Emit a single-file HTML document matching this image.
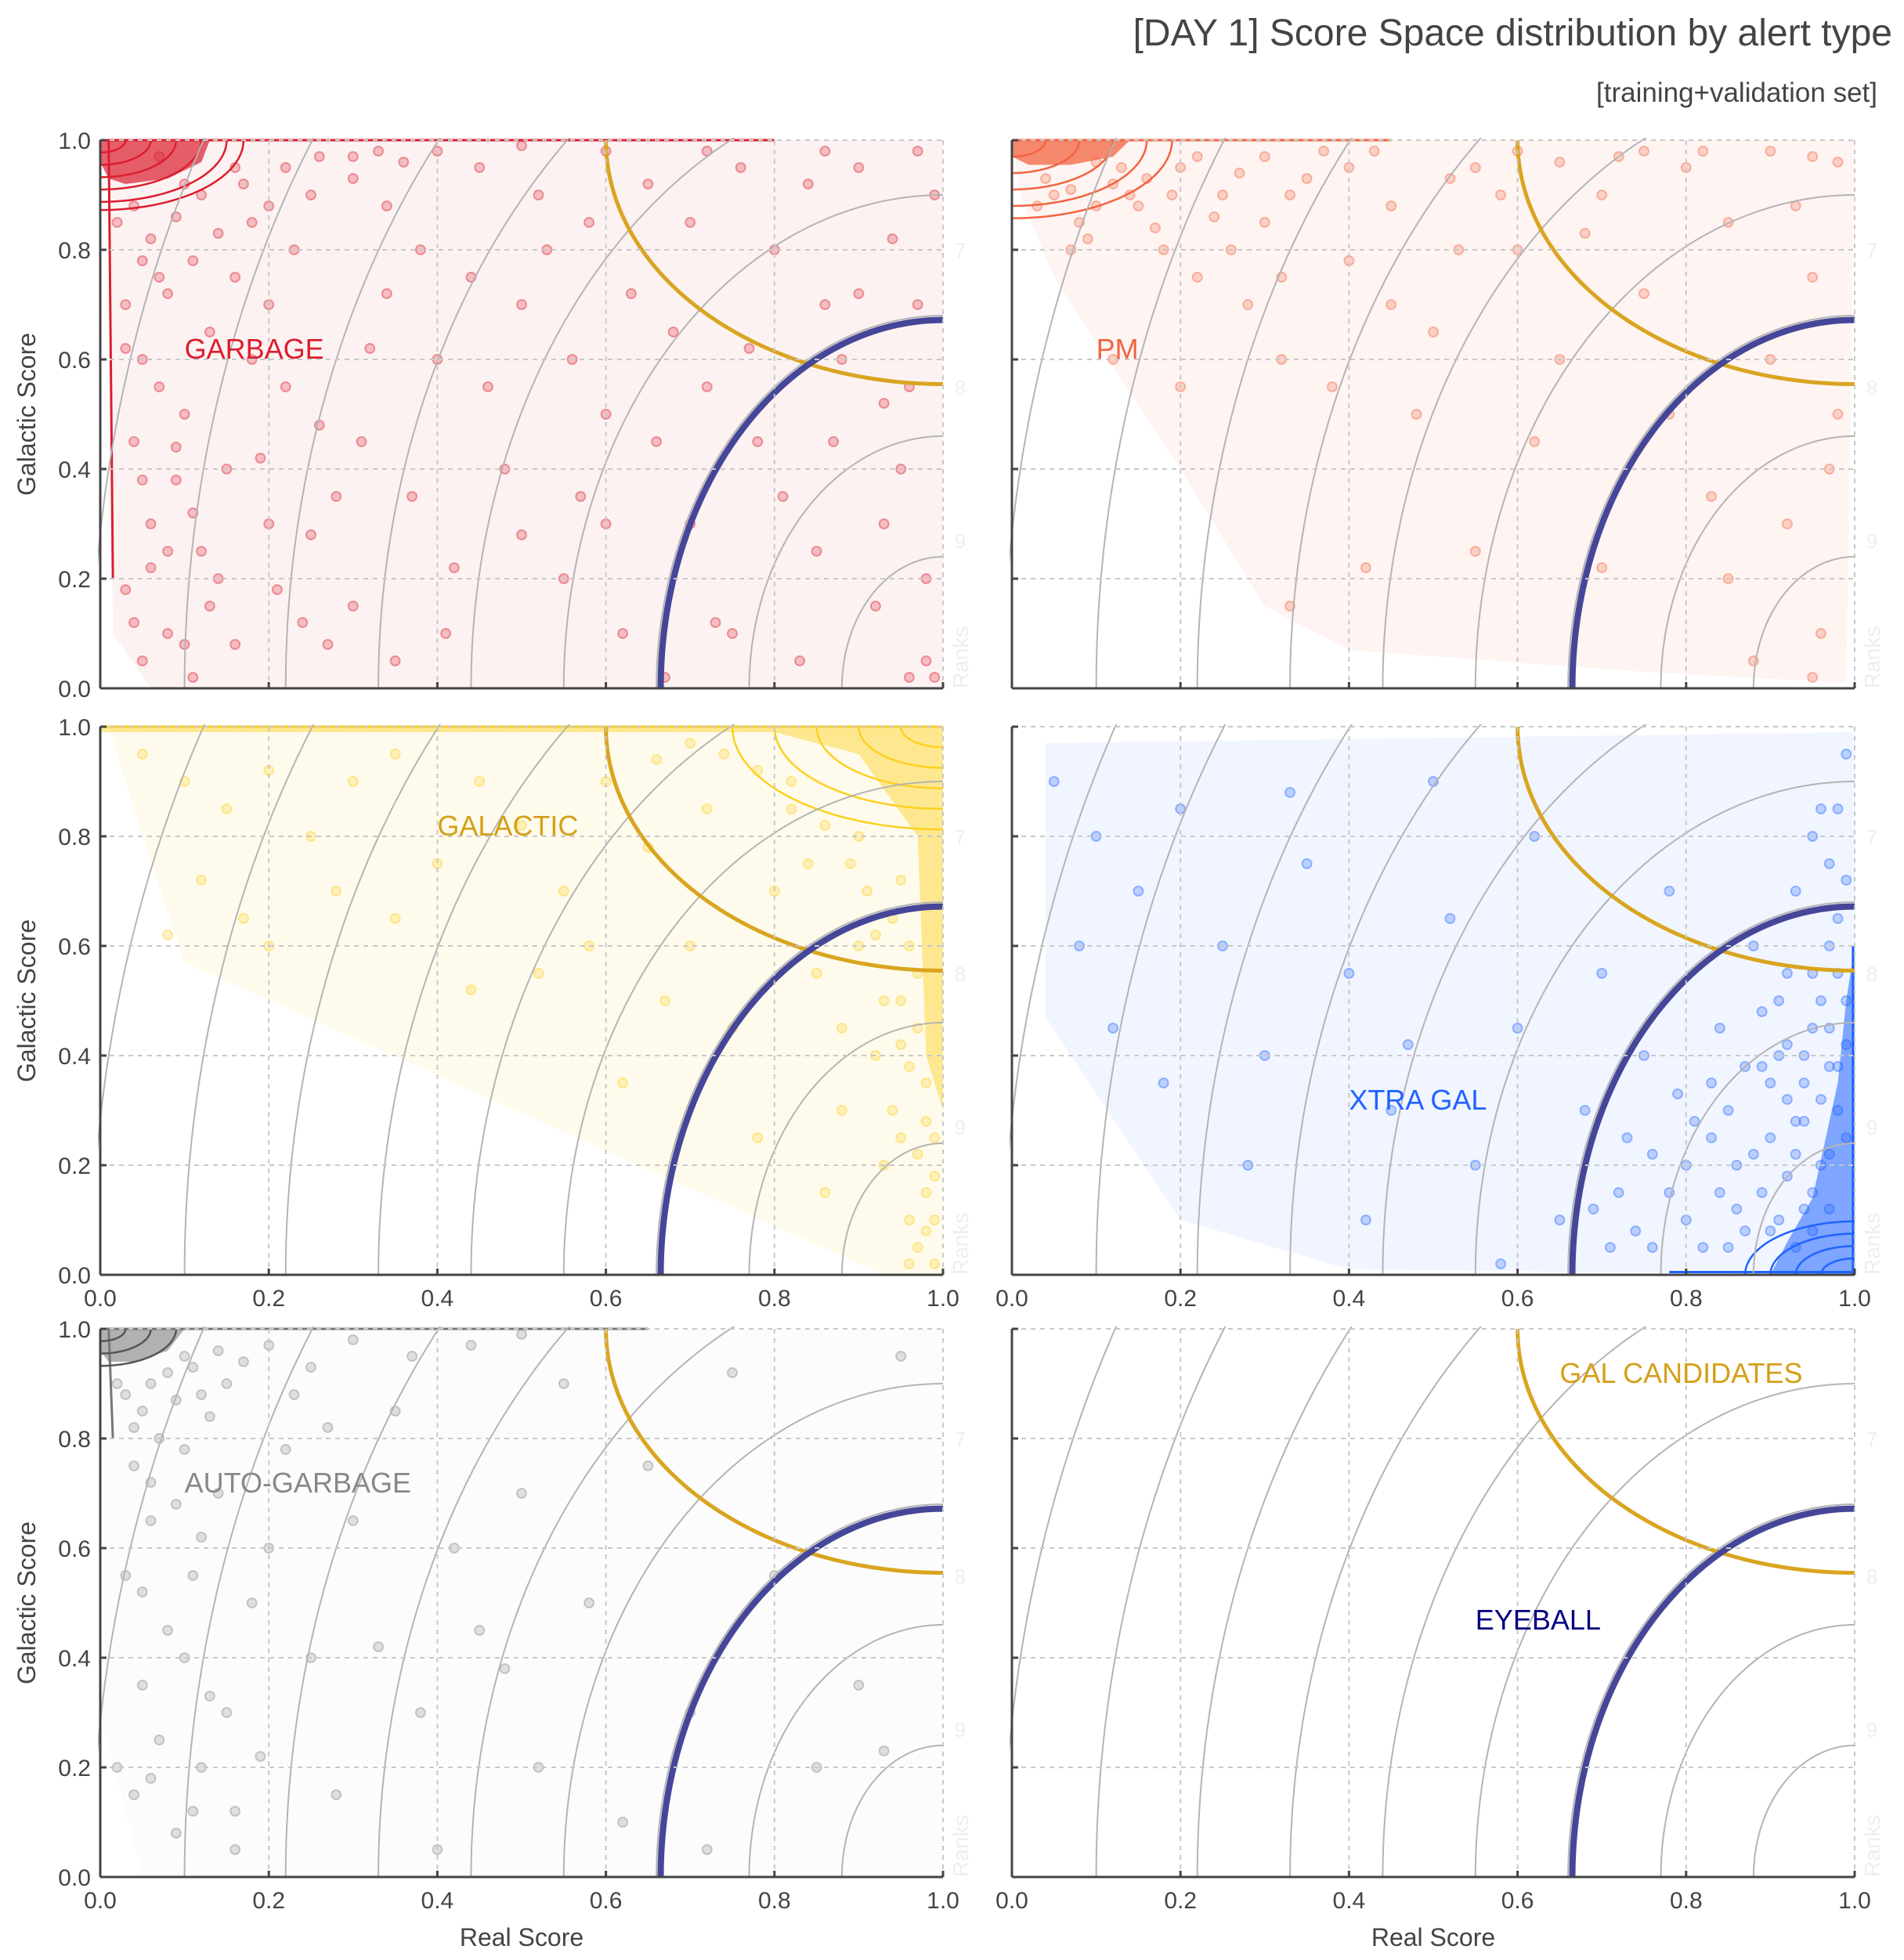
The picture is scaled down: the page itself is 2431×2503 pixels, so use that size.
<!DOCTYPE html>
<html><head><meta charset="utf-8"><style>
html,body{margin:0;padding:0;background:#fff;}
svg{display:block;font-family:"Liberation Sans",sans-serif;}
</style></head><body>
<svg id="chart" width="2431" height="2503" viewBox="0 0 2431 2503" xmlns="http://www.w3.org/2000/svg">
<text x="2416" y="58" text-anchor="end" font-size="48" fill="#444">[DAY 1] Score Space distribution by alert type</text>
<text x="2397" y="130" text-anchor="end" font-size="35" fill="#444">[training+validation set]</text>
</svg>
<script>
// ---- data ----
const panelNames = ['garbage','pm','galactic','xtra-gal','auto-garbage','candidates'];
const panelLabels = ['GARBAGE','PM','GALACTIC','XTRA GAL','AUTO-GARBAGE',''];
const panelColors = ['#dc1e2e','#f26440','#fdd020','#1f63ff','#888888',''];
const labelColors = ['#dc1e2e','#f26440','#d4a017','#1f63ff','#888888',''];
const labelPos = [[0.1,0.62],[0.1,0.62],[0.4,0.82],[0.4,0.32],[0.1,0.72],[0,0]];
const hullFills = ['#fcf2f2','#fef4f2','#fffbec','#f1f5ff','#fcfcfc',''];
const hulls = [
 [[0.01,1],[1,1],[1,0],[0.06,0],[0.015,0.1]],
 [[0.0,1],[1,1],[0.99,0.01],[0.75,0.03],[0.4,0.07],[0.3,0.15],[0.2,0.4],[0.05,0.75],[0.01,0.9]],
 [[0.01,1],[1,1],[1,0],[0.93,0.0],[0.1,0.57],[0.05,0.8]],
 [[0.04,0.97],[1,0.99],[1,0],[0.4,0.01],[0.2,0.1],[0.04,0.47]],
 [[0.0,1],[1,1],[1,0],[0.05,0],[0.0,0.3]],
 []
];
const blobs = [
 [[0,1],[0.13,1],[0.12,0.96],[0.08,0.93],[0.03,0.92],[0.01,0.93],[0,0.96]],
 [[0,1],[0.14,1],[0.12,0.97],[0.07,0.955],[0.02,0.955],[0,0.97]],
 [[0.0,1],[1,1],[1,0.3],[0.98,0.4],[0.97,0.8],[0.9,0.95],[0.8,0.99],[0.0,0.99]],
 [[1,0.6],[1,0],[0.9,0],[0.92,0.06],[0.95,0.14],[0.98,0.35],[0.99,0.5]],
 [[0,1],[0.1,1],[0.08,0.96],[0.04,0.94],[0.01,0.94],[0,0.96]],
 []
];
const blobOpacity = [0.7,0.75,0.45,0.55,0.65,0];
const contourA = [[0.03,0.06,0.09,0.12,0.15,0.17],[0.04,0.08,0.12,0.16,0.19],[0.05,0.1,0.15,0.2,0.25],[0.04,0.07,0.1,0.13],[0.03,0.06,0.09],[]];
// edge lines: [x1,y1,x2,y2]
const edgeLines = [[[0,1,0.8,1],[0.01,1,0.015,0.2]],[[0,1,0.45,1]],[[0,1,1,1]],[[0.78,0.005,1,0.005],[0.998,0,0.998,0.6]],[[0,1,0.65,1],[0.01,1,0.015,0.8]],[]];
const pts0 = [0.02,0.85,0.03,0.7,0.05,0.6,0.04,0.45,0.06,0.3,0.03,0.18,0.08,0.1,0.05,0.05,0.1,0.08,0.12,0.25,0.15,0.4,0.1,0.5,0.2,0.7,0.18,0.85,0.25,0.9,0.22,0.55,0.28,0.35,0.3,0.15,0.35,0.05,0.4,0.6,0.38,0.8,0.45,0.95,0.5,0.7,0.48,0.4,0.55,0.2,0.6,0.5,0.58,0.85,0.65,0.92,0.7,0.3,0.68,0.65,0.75,0.1,0.8,0.8,0.78,0.45,0.85,0.25,0.88,0.6,0.9,0.95,0.92,0.15,0.95,0.4,0.97,0.7,0.98,0.05,0.99,0.9,0.14,0.2,0.09,0.38,0.07,0.75,0.13,0.65,0.24,0.12,0.32,0.62,0.42,0.22,0.52,0.9,0.62,0.1,0.72,0.55,0.83,0.05,0.93,0.52,0.96,0.02,0.06,0.22,0.11,0.02,0.2,0.3,0.26,0.48,0.34,0.88,0.44,0.75,0.57,0.35,0.67,0.02,0.76,0.95,0.86,0.7,0.94,0.82,0.16,0.95,0.3,0.97,0.1,0.92,0.07,0.97,
 0.04,0.88,0.06,0.82,0.09,0.86,0.12,0.9,0.14,0.83,0.17,0.92,0.2,0.88,0.22,0.95,0.26,0.97,0.3,0.93,0.33,0.98,0.36,0.96,0.4,0.98,0.05,0.78,0.08,0.72,0.11,0.78,0.03,0.62,0.07,0.55,0.09,0.44,0.05,0.38,0.11,0.32,0.08,0.25,0.04,0.12,0.13,0.15,0.16,0.08,0.18,0.6,0.16,0.75,0.23,0.8,0.19,0.42,0.25,0.28,0.21,0.18,0.27,0.08,0.31,0.45,0.34,0.72,0.37,0.35,0.41,0.1,0.46,0.55,0.5,0.28,0.53,0.8,0.56,0.6,0.6,0.3,0.63,0.72,0.66,0.45,0.7,0.85,0.73,0.12,0.77,0.62,0.81,0.35,0.84,0.92,0.87,0.45,0.9,0.72,0.93,0.3,0.96,0.55,0.98,0.2,0.99,0.02,0.97,0.98,0.86,0.98,0.72,0.98,0.6,0.98,0.5,0.99];
const pts1 = [0.05,0.9,0.08,0.85,0.12,0.92,0.15,0.88,0.2,0.95,0.18,0.8,0.25,0.9,0.22,0.75,0.3,0.85,0.35,0.93,0.28,0.7,0.4,0.78,0.45,0.88,0.5,0.65,0.38,0.55,0.55,0.95,0.6,0.8,0.48,0.5,0.65,0.6,0.7,0.9,0.75,0.72,0.8,0.95,0.85,0.85,0.9,0.6,0.95,0.75,0.98,0.5,0.92,0.3,0.85,0.2,0.96,0.1,0.88,0.05,0.7,0.22,0.62,0.45,0.55,0.25,0.42,0.22,0.33,0.15,0.6,0.98,0.75,0.98,0.9,0.98,0.1,0.96,0.14,0.9,0.03,0.88,0.07,0.8,0.12,0.6,0.2,0.55,0.58,0.9,0.68,0.83,0.78,0.5,0.93,0.88,0.97,0.4,0.83,0.35,0.95,0.02,0.53,0.8,0.32,0.6,
 0.04,0.93,0.07,0.91,0.1,0.88,0.13,0.95,0.16,0.93,0.19,0.9,0.22,0.97,0.24,0.86,0.27,0.94,0.3,0.97,0.33,0.9,0.37,0.98,0.4,0.95,0.43,0.98,0.26,0.8,0.32,0.75,0.17,0.84,0.09,0.82,0.45,0.7,0.52,0.93,0.65,0.96,0.72,0.97,0.82,0.98,0.95,0.97,0.98,0.96];
const pts2 = [0.05,0.95,0.1,0.9,0.15,0.85,0.2,0.92,0.25,0.8,0.3,0.9,0.35,0.95,0.12,0.72,0.08,0.62,0.2,0.6,0.4,0.75,0.45,0.9,0.5,0.82,0.55,0.7,0.6,0.9,0.65,0.78,0.7,0.6,0.72,0.85,0.75,0.45,0.8,0.7,0.82,0.9,0.85,0.55,0.88,0.3,0.9,0.8,0.92,0.4,0.93,0.2,0.94,0.65,0.96,0.1,0.97,0.05,0.98,0.35,0.95,0.5,0.9,0.6,0.86,0.15,0.78,0.25,0.67,0.5,0.62,0.35,0.52,0.55,0.58,0.6,0.44,0.52,0.35,0.65,0.28,0.7,0.17,0.65,0.99,0.25,0.98,0.15,0.99,0.02,0.97,0.45,0.95,0.72,0.88,0.45,0.84,0.75,
 0.96,0.6,0.97,0.55,0.95,0.42,0.96,0.38,0.98,0.28,0.97,0.22,0.99,0.18,0.94,0.3,0.93,0.5,0.92,0.62,0.91,0.7,0.89,0.75,0.86,0.82,0.82,0.85,0.78,0.92,0.74,0.95,0.7,0.97,0.66,0.94,0.99,0.1,0.98,0.08,0.96,0.02,0.95,0.25];
const pts3 = [0.05,0.9,0.1,0.8,0.15,0.7,0.08,0.6,0.12,0.45,0.2,0.85,0.25,0.6,0.3,0.4,0.28,0.2,0.35,0.75,0.4,0.55,0.45,0.3,0.42,0.1,0.5,0.9,0.52,0.65,0.55,0.2,0.6,0.45,0.62,0.8,0.65,0.1,0.68,0.3,0.7,0.55,0.72,0.15,0.75,0.4,0.78,0.7,0.8,0.2,0.82,0.05,0.84,0.45,0.85,0.3,0.86,0.12,0.88,0.6,0.88,0.22,0.9,0.35,0.9,0.08,0.91,0.5,0.92,0.18,0.93,0.28,0.93,0.7,0.94,0.4,0.95,0.55,0.95,0.15,0.96,0.32,0.96,0.85,0.97,0.45,0.97,0.22,0.98,0.65,0.98,0.38,0.99,0.95,0.99,0.5,0.87,0.38,0.83,0.25,0.8,0.1,0.79,0.33,0.76,0.05,0.73,0.25,0.92,0.42,0.94,0.12,0.89,0.48,0.97,0.75,0.95,0.8,0.18,0.35,0.33,0.88,0.58,0.02,0.47,0.42,
 0.86,0.2,0.87,0.08,0.89,0.15,0.9,0.25,0.91,0.1,0.92,0.32,0.93,0.05,0.93,0.22,0.94,0.35,0.94,0.28,0.95,0.45,0.95,0.08,0.96,0.2,0.96,0.5,0.97,0.38,0.97,0.12,0.98,0.3,0.98,0.55,0.99,0.42,0.99,0.25,0.85,0.05,0.84,0.15,0.83,0.35,0.81,0.28,0.78,0.15,0.76,0.22,0.74,0.08,0.71,0.05,0.69,0.12,0.91,0.4,0.89,0.38,0.92,0.55,0.97,0.6,0.99,0.72,0.98,0.85];
const pts4 = [0.02,0.9,0.05,0.85,0.08,0.92,0.1,0.95,0.12,0.88,0.15,0.9,0.2,0.97,0.25,0.93,0.3,0.98,0.04,0.75,0.06,0.65,0.03,0.55,0.08,0.45,0.05,0.35,0.07,0.25,0.04,0.15,0.09,0.08,0.12,0.2,0.15,0.3,0.18,0.5,0.2,0.6,0.14,0.7,0.25,0.4,0.28,0.15,0.3,0.65,0.35,0.85,0.38,0.3,0.4,0.05,0.45,0.45,0.5,0.7,0.52,0.2,0.55,0.9,0.58,0.5,0.62,0.1,0.65,0.75,0.7,0.3,0.75,0.92,0.8,0.55,0.85,0.2,0.9,0.35,0.95,0.95,0.93,0.23,0.72,0.05,0.48,0.38,0.42,0.6,0.33,0.42,0.22,0.78,0.16,0.12,0.11,0.55,0.02,0.2,
 0.03,0.88,0.06,0.9,0.09,0.87,0.11,0.93,0.14,0.96,0.17,0.94,0.04,0.82,0.07,0.8,0.1,0.78,0.13,0.84,0.06,0.72,0.09,0.68,0.12,0.62,0.05,0.52,0.1,0.4,0.13,0.33,0.06,0.18,0.11,0.12,0.16,0.05,0.19,0.22,0.23,0.88,0.27,0.82,0.37,0.95,0.44,0.97,0.5,0.99];
const allPts = [pts0,pts1,pts2,pts3,pts4,[]];
const rankA = [0.12,0.23,0.34,0.45,0.56,0.67,0.78,0.9,1.01];
const eyeballA = 0.335, eyeballB = 0.672;
const galCand = [0.4,0.445];
const ticks = [0,0.2,0.4,0.6,0.8,1.0];
const tickLabels = ['0.0','0.2','0.4','0.6','0.8','1.0'];
// ---- layout ----
const W=1076,H=700;
const origins=[[128,179],[1292,179],[128,928],[1292,928],[128,1697],[1292,1697]];
const svg=document.getElementById('chart');
const NS='http://www.w3.org/2000/svg';
function mk(tag,attrs,parent){const e=document.createElementNS(NS,tag);for(const k in attrs)e.setAttribute(k,attrs[k]);(parent||svg).appendChild(e);return e;}
const defs=mk('defs',{});
origins.forEach((o,i)=>{
  const [x0,y0]=o;
  const sx=v=>x0+v*W, sy=v=>y0+(1-v)*H;
  const cp=mk('clipPath',{id:'clip'+i},defs); mk('rect',{x:x0-3,y:y0-3,width:W+6,height:H+6},cp);
  const g=mk('g',{});
  
  
  const pg=mk('g',{'clip-path':'url(#clip'+i+')'},g);
  if(hulls[i].length){
    const h=mk('polygon',{points:hulls[i].map(p=>sx(p[0])+','+sy(p[1])).join(' '),fill:hullFills[i]},pg);
    
    
  }
  for(const t of ticks.slice(1)){
    const gv=mk('line',{x1:sx(t),x2:sx(t),y1:y0,y2:y0+H,stroke:'#c8c8c8','stroke-width':2,'stroke-dasharray':'6,6'},g);
    
    
    const gh=mk('line',{x1:x0,x2:x0+W,y1:sy(t),y2:sy(t),stroke:'#c8c8c8','stroke-width':2,'stroke-dasharray':'6,6'},g);
    
    
  }
  const pp=allPts[i];
  for(let k=0;k<pp.length;k+=2){
    const c=mk('circle',{cx:sx(pp[k]),cy:sy(pp[k+1]),r:6,fill:panelColors[i],'fill-opacity':0.25,stroke:panelColors[i],'stroke-opacity':0.4,'stroke-width':2},pg);
    
    
  }
  if(blobs[i].length){
    const b=mk('polygon',{points:blobs[i].map(p=>sx(p[0])+','+sy(p[1])).join(' '),fill:panelColors[i],'fill-opacity':blobOpacity[i]},pg);
    
    
  }
  edgeLines[i].forEach(l=>{
    const e=mk('line',{x1:sx(l[0]),y1:sy(l[1]),x2:sx(l[2]),y2:sy(l[3]),stroke:i===4?'#777':panelColors[i],'stroke-width':3},pg);
    
    
  });
  const corner = i===2?[1,1]:(i===3?[1,0]:[0,1]);
  contourA[i].forEach(a=>{
    let d='';
    for(let s=0;s<=40;s++){const th=s/40*Math.PI/2;
      const dx=a*Math.cos(th)*(corner[0]?-1:1), dy=a*0.75*Math.sin(th)*(corner[1]?-1:1);
      d+=(s?'L':'M')+sx(corner[0]+dx)+','+sy(corner[1]+dy);}
    const c=mk('path',{d,fill:'none',stroke:i===4?'#555':panelColors[i],'stroke-width':2.5},pg);
    
    
  });
  rankA.forEach(a=>{
    let d='';
    for(let s=0;s<=80;s++){const th=s/80*Math.PI/2;d+=(s?'L':'M')+sx(1-a*Math.cos(th))+','+sy(2*a*Math.sin(th));}
    const c=mk('path',{d,fill:'none',stroke:'#b4b4b4','stroke-width':2},pg);
    
    
  });
  let d='';
  for(let s=0;s<=80;s++){const th=s/80*Math.PI/2;d+=(s?'L':'M')+sx(1-galCand[0]*Math.cos(th))+','+sy(1-galCand[1]*Math.sin(th));}
  const gc=mk('path',{d,fill:'none',stroke:'#d9a520','stroke-width':5},pg);
  
  
  d='';
  for(let s=0;s<=80;s++){const th=s/80*Math.PI/2;d+=(s?'L':'M')+sx(1-eyeballA*Math.cos(th))+','+sy(eyeballB*Math.sin(th));}
  const eb=mk('path',{d,fill:'none',stroke:'#464699','stroke-width':8},pg);
  
  
  mk('line',{x1:x0,x2:x0,y1:y0,y2:y0+H,stroke:'#444','stroke-width':3},g);
  mk('line',{x1:x0,x2:x0+W,y1:y0+H,y2:y0+H,stroke:'#444','stroke-width':3},g);
  ticks.forEach((t,j)=>{
    mk('line',{x1:x0,x2:x0+8,y1:sy(t),y2:sy(t),stroke:'#444','stroke-width':3},g);
    mk('line',{x1:sx(t),x2:sx(t),y1:y0+H,y2:y0+H-8,stroke:'#444','stroke-width':3},g);
    if(i%2===0){const tl=mk('text',{x:x0-12,y:sy(t)+11,'text-anchor':'end','font-size':30,fill:'#444'},g);tl.textContent=tickLabels[j];
      
      }
    if(i>=2){const tl=mk('text',{x:sx(t),y:y0+H+40,'text-anchor':'middle','font-size':30,fill:'#444'},g);tl.textContent=tickLabels[j];
      
      }
  });
  [['7',0.8],['8',0.55],['9',0.27]].forEach(r=>{const t=mk('text',{x:x0+W+22,y:sy(r[1])+10,'font-size':26,fill:'#eeeeee','text-anchor':'middle'},g);t.textContent=r[0];});
  const rk=mk('text',{x:x0+W+32,y:y0+H,'font-size':28,fill:'#eeeeee',transform:'rotate(-90 '+(x0+W+32)+' '+(y0+H)+')'},g);rk.textContent='Ranks';
  if(panelLabels[i]){
    const lb=mk('text',{x:sx(labelPos[i][0]),y:sy(labelPos[i][1])+13,'font-size':36,fill:labelColors[i]},g);
    lb.textContent=panelLabels[i];
    
    
  } else {
    const l1=mk('text',{x:sx(0.65),y:sy(0.92)+13,'font-size':36,fill:'#d4a017'},g);l1.textContent='GAL CANDIDATES';
    
    
    const l2=mk('text',{x:sx(0.55),y:sy(0.47)+13,'font-size':36,fill:'#000080'},g);l2.textContent='EYEBALL';
    
    
  }
  if(i%2===0){
    const yl=mk('text',{x:45,y:y0+H/2,'text-anchor':'middle','font-size':32,fill:'#444',transform:'rotate(-90 45 '+(y0+H/2)+')'},g);
    yl.textContent='Galactic Score';
    
    
  }
  if(i>=4){
    const xl=mk('text',{x:x0+W/2,y:y0+H+88,'text-anchor':'middle','font-size':32,fill:'#444'},g);
    xl.textContent='Real Score';
    
    
  }
});
</script>
</body></html>
